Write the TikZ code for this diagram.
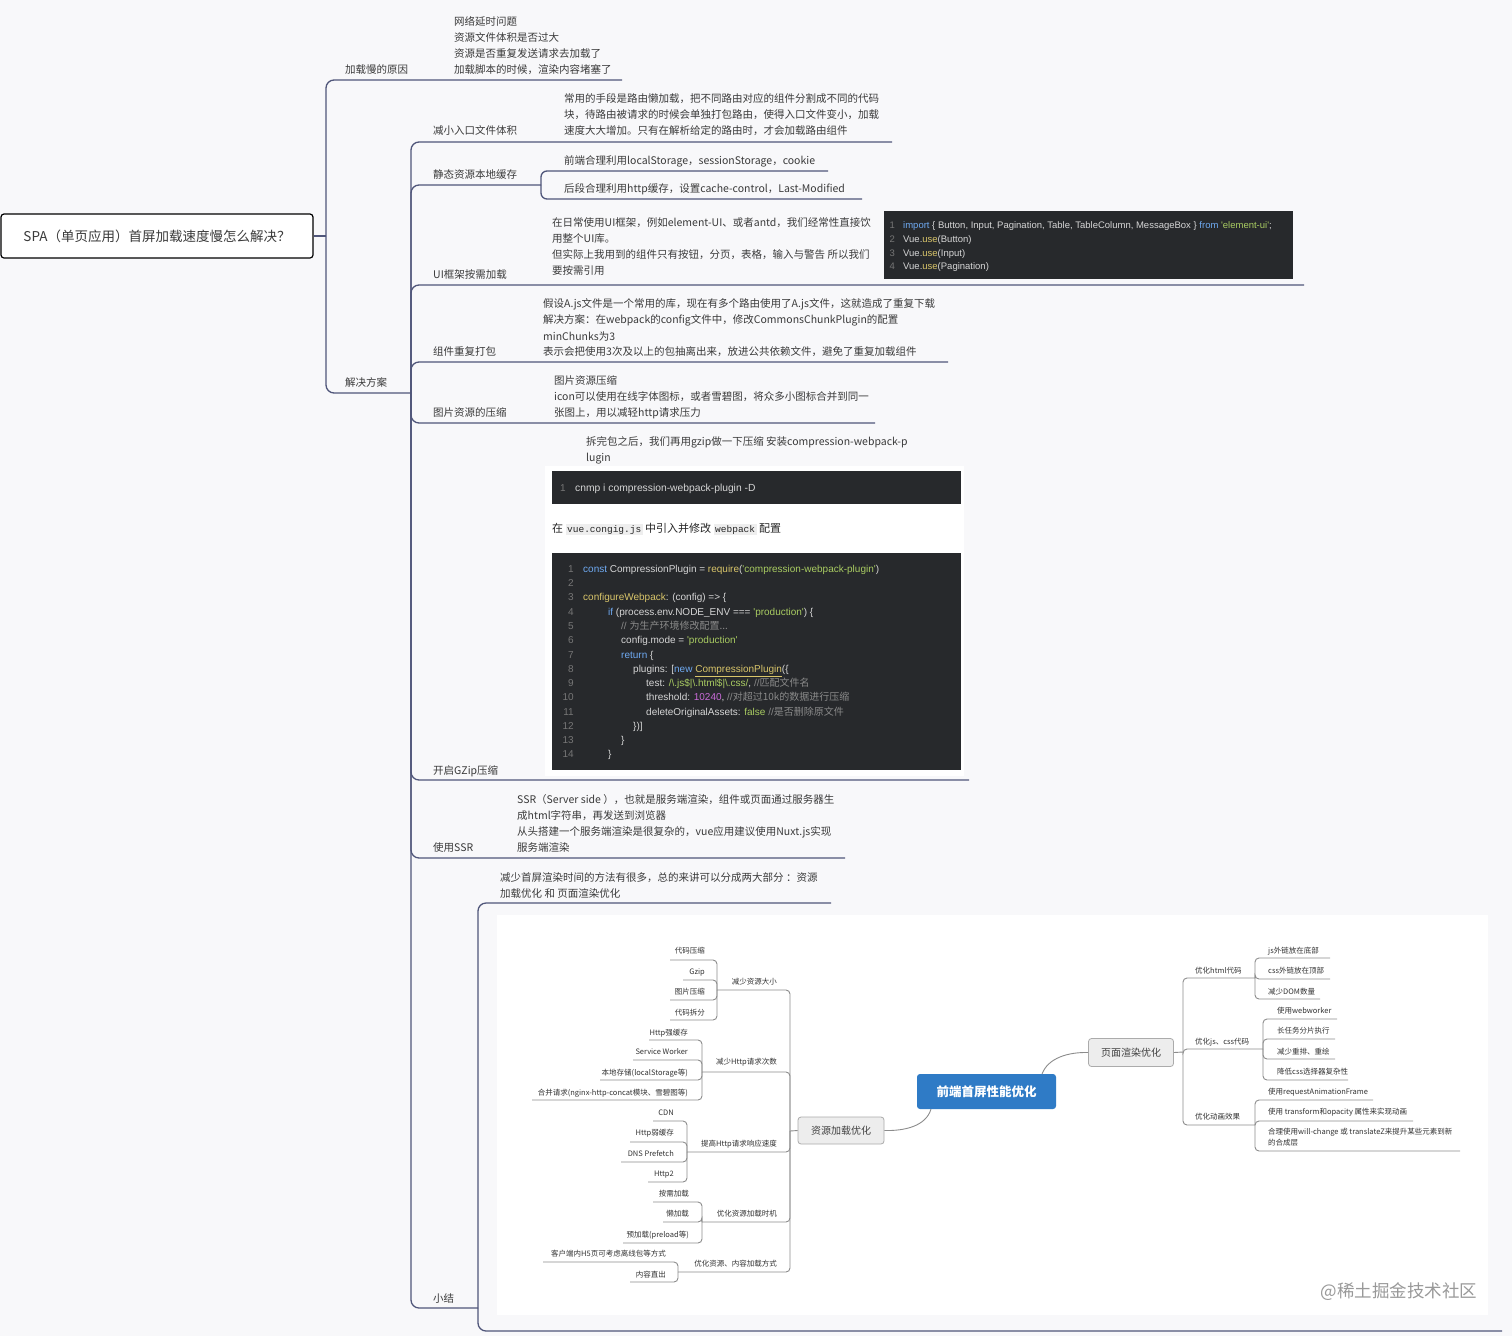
\documentclass[tikz,border=0pt]{standalone}
\usepackage{fontspec}
\setmainfont{Noto Sans CJK SC}
\newfontfamily\cjkf{Noto Sans CJK SC}
\newfontfamily\codef[Ligatures=TeXOff]{Liberation Sans}
\newfontfamily\monof[Ligatures=TeXOff]{Liberation Mono}
\definecolor{bgc}{HTML}{F8F8FA}
\definecolor{linec}{HTML}{50567A}
\definecolor{txtc}{HTML}{3A3A3A}
\definecolor{codebg}{HTML}{27292C}
\definecolor{codefg}{HTML}{D6D6D6}
\definecolor{numc}{HTML}{767676}
\definecolor{kwc}{HTML}{6FAAF2}
\definecolor{strc}{HTML}{A9CC62}
\definecolor{fnc}{HTML}{D9C56A}
\definecolor{numlit}{HTML}{C96BD8}
\definecolor{cmtc}{HTML}{8A8A8A}
\definecolor{pillc}{HTML}{EEEEEE}
\definecolor{mmline}{HTML}{8C8C8C}
\definecolor{mmtxt}{HTML}{333333}
\definecolor{ctrblue}{HTML}{2F7BC6}
\definecolor{gfill}{HTML}{EDEDED}
\definecolor{gdraw}{HTML}{ABABAB}
\newcommand{\fm}{\fontsize{10.5}{14}\selectfont}
\newcommand{\fcode}{\fontsize{10}{12}\selectfont}
\newcommand{\fcodes}{\fontsize{9.5}{11}\selectfont}
\newcommand{\fmm}{\fontsize{7.5}{9}\selectfont}
\newcommand{\pill}[1]{{\setlength{\fboxsep}{1.5pt}\colorbox{pillc}{\monof\fontsize{9.5}{10}\selectfont #1}}}
\newcommand{\kw}[1]{\textcolor{kwc}{#1}}
\newcommand{\st}[1]{\textcolor{strc}{#1}}
\newcommand{\fn}[1]{\textcolor{fnc}{#1}}
\newcommand{\cmt}[1]{\textcolor{cmtc}{#1}}
\begin{document}
\begin{tikzpicture}[x=1pt,y=-1pt,
  t/.style={anchor=base west, inner sep=0pt, font=\fm, text=txtc},
  br/.style={draw=linec, line width=1.3pt, rounded corners=8pt},
  cd/.style={anchor=base west, inner sep=0pt, font=\codef\fcode, text=codefg},
  cn/.style={anchor=base east, inner sep=0pt, font=\codef\fcode, text=numc},
  cds/.style={anchor=base west, inner sep=0pt, font=\codef\fcodes, text=codefg},
  cns/.style={anchor=base east, inner sep=0pt, font=\codef\fcodes, text=numc},
  mmr/.style={anchor=base east, inner sep=0pt, font=\fmm, text=mmtxt},
  mml/.style={anchor=base west, inner sep=0pt, font=\fmm, text=mmtxt},
  ml/.style={draw=mmline, line width=0.9pt, rounded corners=4pt},
  cbox/.style={fill=codebg, draw=none, inner sep=0pt, anchor=north west},
  gbox/.style={fill=gfill, draw=gdraw, line width=0.8pt, rounded corners=3pt, inner sep=0pt, font=\fontsize{10}{12}\selectfont, text=black!75}]
\useasboundingbox (0,0) rectangle (1512,1336);
\fill[bgc] (0,0) rectangle (1512,1336);
% white panels
\fill[white] (545,466) rectangle (964,776);
\fill[white] (497,915) rectangle (1488,1315);

% ---------- root ----------
\node[draw=black, line width=1.2pt, rounded corners=3pt, fill=white, minimum width=312pt, minimum height=44pt, inner sep=0pt, font=\fontsize{13.5}{15}\selectfont, text=txtc] (root) at (157,236) {SPA（单页应用）首屏加载速度慢怎么解决？};
\coordinate (J0) at (326,236);
\draw[br] (root.east) -- (J0);

% ---------- branch A ----------
\node[t] (lA) at (345,73) {加载慢的原因};
\node[t] (a1) at (454,25) {网络延时问题};
\node[t] (a2) at (454,41) {资源文件体积是否过大};
\node[t] (a3) at (454,57) {资源是否重复发送请求去加载了};
\node[t] (a4) at (454,73) {加载脚本的时候，渲染内容堵塞了};
\coordinate (Aend) at (622,80);
\draw[br] (J0) |- (Aend);

% ---------- branch B ----------
\node[t] (lB) at (345,386) {解决方案};
\coordinate (J1) at (411,393);
\draw[br] (J0) |- (J1);

% B1
\node[t] (lB1) at (433,134) {减小入口文件体积};
\node[t] (b11) at (564,102) {常用的手段是路由懒加载，把不同路由对应的组件分割成不同的代码};
\node[t] (b12) at (564,118) {块，待路由被请求的时候会单独打包路由，使得入口文件变小，加载};
\node[t] (b13) at (564,134) {速度大大增加。只有在解析给定的路由时，才会加载路由组件};
\coordinate (B1end) at (892,142);
\draw[br] (J1) |- (B1end);

% B2
\node[t] (lB2) at (433,178) {静态资源本地缓存};
\coordinate (J2) at (541,185);
\draw[br] (J1) |- (J2);
\node[t] (b21) at (564,164) {前端合理利用localStorage，sessionStorage，cookie};
\node[t] (b22) at (564,192) {后段合理利用http缓存，设置cache-control，Last-Modified};
\coordinate (B21end) at (828,171);
\coordinate (B22end) at (862,199);
\draw[br, rounded corners=6pt] (J2) |- (B21end);
\draw[br, rounded corners=6pt] (J2) |- (B22end);

% B3
\node[t] (lB3) at (433,278) {UI框架按需加载};
\node[t] (b31) at (552,226) {在日常使用UI框架，例如element-UI、或者antd，我们经常性直接饮};
\node[t] (b32) at (552,242) {用整个UI库。};
\node[t] (b33) at (552,258) {但实际上我用到的组件只有按钮，分页，表格，输入与警告 所以我们};
\node[t] (b34) at (552,274) {要按需引用};
\node[cbox, minimum width=409pt, minimum height=68pt] (cb1) at (884,211) {};
\node[cns] (k1n) at (895,228.5) {1};
\node[cns] (k2n) at (895,242.5) {2};
\node[cns] (k3n) at (895,256.5) {3};
\node[cns] (k4n) at (895,269.5) {4};
\node[cds] (k1) at (903,228.5) {\kw{import} \{ Button, Input, Pagination, Table, TableColumn, MessageBox \} \kw{from} \st{'element-ui'};};
\node[cds] (k2) at (903,242.5) {Vue.\fn{use}(Button)};
\node[cds] (k3) at (903,256.5) {Vue.\fn{use}(Input)};
\node[cds] (k4) at (903,269.5) {Vue.\fn{use}(Pagination)};
\coordinate (B3end) at (1304,285);
\draw[br] (J1) |- (B3end);

% B4
\node[t] (lB4) at (433,355) {组件重复打包};
\node[t] (b41) at (543,307) {假设A.js文件是一个常用的库，现在有多个路由使用了A.js文件，这就造成了重复下载};
\node[t] (b42) at (543,323) {解决方案：在webpack的config文件中，修改CommonsChunkPlugin的配置};
\node[t] (b43) at (543,340) {minChunks为3};
\node[t] (b44) at (543,355) {表示会把使用3次及以上的包抽离出来，放进公共依赖文件，避免了重复加载组件};
\coordinate (B4end) at (948,362);
\draw[br] (J1) |- (B4end);

% B5
\node[t] (lB5) at (433,416) {图片资源的压缩};
\node[t] (b51) at (554,384) {图片资源压缩};
\node[t] (b52) at (554,400) {icon可以使用在线字体图标，或者雪碧图，将众多小图标合并到同一};
\node[t] (b53) at (554,416) {张图上，用以减轻http请求压力};
\coordinate (B5end) at (875,423);
\draw[br] (J1) |- (B5end);

% B6
\node[t] (lB6) at (433,774) {开启GZip压缩};
\node[t] (b61) at (586,445) {拆完包之后，我们再用gzip做一下压缩 安装compression-webpack-p};
\node[t] (b62) at (586,461) {lugin};
\node[cbox, minimum width=409pt, minimum height=33pt] (cb2) at (552,471) {};
\node[cn] (g1n) at (566,491.6) {1};
\node[cd, font=\codef\fontsize{10.3}{12}\selectfont] (g1) at (575,491.6) {cnmp i compression-webpack-plugin -D};
\node[anchor=base west, inner sep=0pt, font=\fontsize{11}{12}\selectfont, text=black!85] (b63) at (552,532) {在 \pill{vue.congig.js} 中引入并修改 \pill{webpack} 配置};
\node[cbox, minimum width=409pt, minimum height=217pt] (cb3) at (552,553) {};
\node[cn] (n1) at (574,572.6) {1};
\node[cn] (n2) at (574,586.6) {2};
\node[cn] (n3) at (574,600.6) {3};
\node[cn] (n4) at (574,615.6) {4};
\node[cn] (n5) at (574,629.6) {5};
\node[cn] (n6) at (574,643.6) {6};
\node[cn] (n7) at (574,658.6) {7};
\node[cn] (n8) at (574,672.6) {8};
\node[cn] (n9) at (574,686.6) {9};
\node[cn] (n10) at (574,700.6) {10};
\node[cn] (n11) at (574,715.6) {11};
\node[cn] (n12) at (574,729.6) {12};
\node[cn] (n13) at (574,743.6) {13};
\node[cn] (n14) at (574,757.6) {14};
\node[cd] (c1) at (583,572.6) {\kw{const} CompressionPlugin = \fn{require}(\st{'compression-webpack-plugin'})};
\node[cd] (c3) at (583,600.6) {\fn{configureWebpack}: (config) => \{};
\node[cd] (c4) at (608,615.6) {\kw{if} (process.env.NODE\_ENV === \st{'production'}) \{};
\node[cd] (c5) at (621,629.6) {\cmt{// {\cjkf 为生产环境修改配置...}}};
\node[cd] (c6) at (621,643.6) {config.mode = \st{'production'}};
\node[cd] (c7) at (621,658.6) {\kw{return} \{};
\node[cd] (c8) at (633,672.6) {plugins: [\kw{new} \fn{\underline{CompressionPlugin}}(\{};
\node[cd] (c9) at (646,686.6) {test: \st{/\textbackslash.js\$|\textbackslash.html\$|\textbackslash.css/}, \cmt{//{\cjkf 匹配文件名}}};
\node[cd] (c10) at (646,700.6) {threshold: \textcolor{numlit}{10240}, \cmt{//{\cjkf 对超过10k的数据进行压缩}}};
\node[cd] (c11) at (646,715.6) {deleteOriginalAssets: \st{false} \cmt{//{\cjkf 是否删除原文件}}};
\node[cd] (c12) at (633,729.6) {\})]};
\node[cd] (c13) at (621,743.6) {\}};
\node[cd] (c14) at (608,757.6) {\}};
\coordinate (B6end) at (969,780);
\draw[br] (J1) |- (B6end);

% B7
\node[t] (lB7) at (433,851) {使用SSR};
\node[t] (b71) at (517,803) {SSR（Server side ），也就是服务端渲染，组件或页面通过服务器生};
\node[t] (b72) at (517,819) {成html字符串，再发送到浏览器};
\node[t] (b73) at (517,835) {从头搭建一个服务端渲染是很复杂的，vue应用建议使用Nuxt.js实现};
\node[t] (b74) at (517,851) {服务端渲染};
\coordinate (B7end) at (845,858);
\draw[br] (J1) |- (B7end);

% B8
\node[t] (lB8) at (433,1302) {小结};
\coordinate (J3) at (478,1308);
\draw[br] (J1) |- (J3);
\node[t] (b81) at (500,881) {减少首屏渲染时间的方法有很多，总的来讲可以分成两大部分 ：资源};
\node[t] (b82) at (500,897) {加载优化 和 页面渲染优化};
\coordinate (B81end) at (831,903);
\coordinate (B82end) at (1502,1331);
\draw[br] (J3) |- (B81end);
\draw[br] (J3) |- (B82end);

% ---------- embedded mind map ----------
\node[fill=ctrblue, rounded corners=3pt, minimum width=139pt, minimum height=35pt, inner sep=0pt, text=white, font=\bfseries\fontsize{12.5}{14}\selectfont] (ctr) at (986.5,1091.5) {前端首屏性能优化};
\node[gbox, minimum width=86pt, minimum height=27pt] (res) at (841,1130.5) {资源加载优化};
\node[gbox, minimum width=85pt, minimum height=28pt] (pag) at (1131,1052.5) {页面渲染优化};
\coordinate (cs) at (931,1109);
\coordinate (cn) at (1042,1074);
\draw[ml] (cs) .. controls (926,1126) and (905,1131) .. (res.east);
\draw[ml] (cn) .. controls (1048,1058) and (1068,1052) .. (pag.west);

% left side
\coordinate (LJ) at (790,1131);
\draw[ml] (res.west) -- (LJ);
\node[mmr] (m1) at (777,984.8) {减少资源大小};
\node[mmr] (m2) at (777,1064.8) {减少Http请求次数};
\node[mmr] (m3) at (777,1146.8) {提高Http请求响应速度};
\node[mmr] (m4) at (777,1216.8) {优化资源加载时机};
\node[mmr] (m5) at (777,1266.8) {优化资源、内容加载方式};
\coordinate (M1) at (717,990);
\coordinate (M2) at (702,1072);
\coordinate (M3) at (687,1152);
\coordinate (M4) at (702,1222);
\coordinate (M5) at (678,1272);
\foreach \m in {M1,M2,M3,M4,M5} \draw[ml] (LJ) |- (\m);

\node[mmr] (p11) at (705,953.8) {代码压缩};
\node[mmr] (p12) at (705,974.8) {Gzip};
\node[mmr] (p13) at (705,994.8) {图片压缩};
\node[mmr] (p14) at (705,1015.8) {代码拆分};
\coordinate (q11) at (670,960);
\coordinate (q12) at (683,980);
\coordinate (q13) at (670,1000);
\coordinate (q14) at (670,1020);
\foreach \q in {q11,q12,q13,q14} \draw[ml] (M1) |- (\q);

\node[mmr] (p21) at (688,1035.8) {Http强缓存};
\node[mmr] (p22) at (688,1054.8) {Service Worker};
\node[mmr] (p23) at (688,1075.8) {本地存储(localStorage等)};
\node[mmr] (p24) at (688,1095.8) {合并请求(nginx-http-concat模块、雪碧图等)};
\coordinate (q21) at (649,1040);
\coordinate (q22) at (633,1060);
\coordinate (q23) at (600,1080);
\coordinate (q24) at (532,1100);
\foreach \q in {q21,q22,q23,q24} \draw[ml] (M2) |- (\q);

\node[mmr] (p31) at (674,1115.8) {CDN};
\node[mmr] (p32) at (674,1135.8) {Http弱缓存};
\node[mmr] (p33) at (674,1156.8) {DNS Prefetch};
\node[mmr] (p34) at (674,1176.8) {Http2};
\coordinate (q31) at (653,1121);
\coordinate (q32) at (630,1142);
\coordinate (q33) at (621,1162);
\coordinate (q34) at (648,1182);
\foreach \q in {q31,q32,q33,q34} \draw[ml] (M3) |- (\q);

\node[mmr] (p41) at (689,1196.8) {按需加载};
\node[mmr] (p42) at (689,1216.8) {懒加载};
\node[mmr] (p43) at (689,1237.8) {预加载(preload等)};
\coordinate (q41) at (653,1202);
\coordinate (q42) at (663,1222);
\coordinate (q43) at (623,1243);
\foreach \q in {q41,q42,q43} \draw[ml] (M4) |- (\q);

\node[mmr] (p51) at (666,1256.8) {客户端内H5页可考虑离线包等方式};
\node[mmr] (p52) at (666,1277.8) {内容直出};
\coordinate (q51) at (543,1262);
\coordinate (q52) at (630,1282);
\foreach \q in {q51,q52} \draw[ml] (M5) |- (\q);

% right side
\coordinate (RJ) at (1183,1052);
\draw[ml] (pag.east) -- (RJ);
\node[mml] (r1) at (1195,973.8) {优化html代码};
\node[mml] (r2) at (1195,1044.8) {优化js、css代码};
\node[mml] (r3) at (1195,1119.8) {优化动画效果};
\coordinate (R1) at (1255,978);
\coordinate (R2) at (1263,1049);
\coordinate (R3) at (1255,1125);
\foreach \r in {R1,R2,R3} \draw[ml] (RJ) |- (\r);

\node[mml] (s11) at (1268,953.8) {js外链放在底部};
\node[mml] (s12) at (1268,973.8) {css外链放在顶部};
\node[mml] (s13) at (1268,994.8) {减少DOM数量};
\coordinate (u11) at (1330,958);
\coordinate (u12) at (1330,979);
\coordinate (u13) at (1320,999);
\foreach \u in {u11,u12,u13} \draw[ml] (R1) |- (\u);

\node[mml] (s21) at (1277,1013.8) {使用webworker};
\node[mml] (s22) at (1277,1033.8) {长任务分片执行};
\node[mml] (s23) at (1277,1054.8) {减少重排、重绘};
\node[mml] (s24) at (1277,1074.8) {降低css选择器复杂性};
\coordinate (u21) at (1337,1019);
\coordinate (u22) at (1335,1039);
\coordinate (u23) at (1335,1059);
\coordinate (u24) at (1348,1080);
\foreach \u in {u21,u22,u23,u24} \draw[ml] (R2) |- (\u);

\node[mml] (s31) at (1268,1094.8) {使用requestAnimationFrame};
\node[mml] (s32) at (1268,1114.8) {使用 transform和opacity 属性来实现动画};
\node[mml] (s33) at (1268,1134.8) {合理使用will-change 或 translateZ来提升某些元素到新};
\node[mml] (s34) at (1268,1145.8) {的合成层};
\coordinate (u31) at (1373,1100);
\coordinate (u32) at (1413,1121);
\coordinate (u33) at (1460,1151);
\foreach \u in {u31,u32,u33} \draw[ml] (R3) |- (\u);

\node[text=black!40, inner sep=0pt, font=\fontsize{17.5}{20}\selectfont] (wm) at (1399,1292) {@稀土掘金技术社区};
\end{tikzpicture}
\end{document}
